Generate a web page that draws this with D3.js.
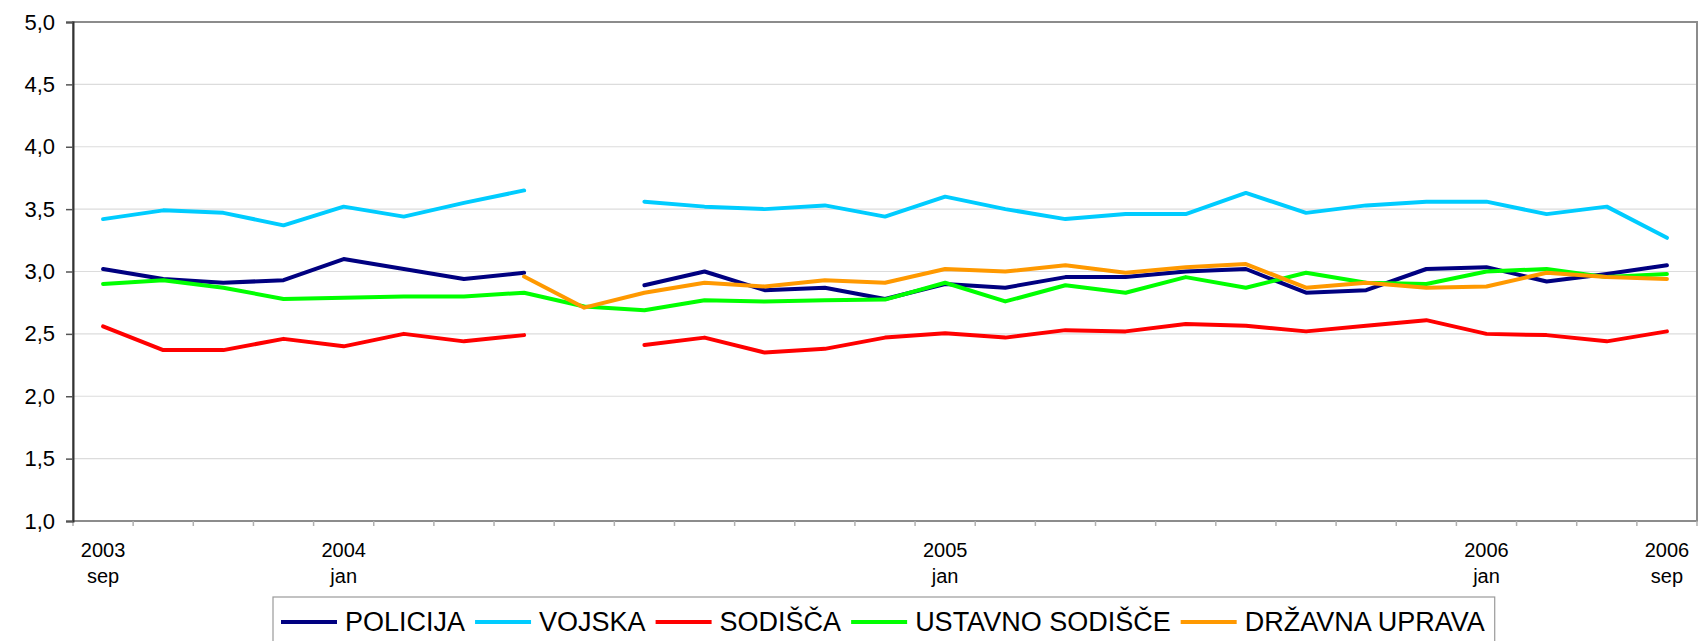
<!DOCTYPE html>
<html>
<head>
<meta charset="utf-8">
<script src="https://cdn.jsdelivr.net/npm/d3@7"></script>
<style>
  body { margin: 0; background: #fff; }
  svg { display: block; font-family: "Liberation Sans", Arial, sans-serif; }
</style>
</head>
<body>
<script>
// categories (survey waves) and the two label rows under the axis
var categories = d3.range(27);
var yearLabels  = {0: "2003", 4: "2004", 14: "2005", 23: "2006", 26: "2006"};
var monthLabels = {0: "sep", 4: "jan", 14: "jan", 23: "jan", 26: "sep"};
var yTicks = [1, 1.5, 2, 2.5, 3, 3.5, 4, 4.5, 5];

var seriesNames = ["POLICIJA", "VOJSKA", "SODIŠČA", "USTAVNO SODIŠČE", "DRŽAVNA UPRAVA"];
var seriesColors = ["#000080", "#00ccff", "#ff0000", "#00ff00", "#ff9900"];

var policija = [3.02, 2.94, 2.91, 2.93, 3.10, 3.02, 2.94, 2.99, null, 2.89, 3.00, 2.85, 2.87, 2.78,
  2.90, 2.87, 2.955, 2.955, 3.00, 3.02, 2.83, 2.85, 3.02, 3.035, 2.92, 2.98, 3.05];
var vojska = [3.42, 3.49, 3.47, 3.37, 3.52, 3.44, 3.55, 3.65, null, 3.56, 3.52, 3.50, 3.53, 3.44,
  3.60, 3.50, 3.42, 3.46, 3.46, 3.63, 3.47, 3.53, 3.56, 3.56, 3.46, 3.52, 3.27];
var sodisca = [2.56, 2.37, 2.37, 2.46, 2.40, 2.50, 2.44, 2.49, null, 2.41, 2.47, 2.35, 2.38, 2.47,
  2.505, 2.47, 2.53, 2.52, 2.58, 2.565, 2.52, 2.565, 2.61, 2.50, 2.49, 2.44, 2.52];
var ustavno = [2.90, 2.93, 2.87, 2.78, 2.79, 2.80, 2.80, 2.83, 2.72, 2.69, 2.77, 2.76, 2.77, 2.775,
  2.91, 2.76, 2.89, 2.83, 2.955, 2.87, 2.99, 2.91, 2.90, 3.00, 3.02, 2.955, 2.98];
var drzavna = [null, null, null, null, null, null, null, 2.96, 2.71, 2.83, 2.91, 2.88, 2.93, 2.91,
  3.02, 3.00, 3.05, 2.99, 3.035, 3.06, 2.87, 2.91, 2.87, 2.88, 2.99, 2.955, 2.94];

(function() {
  var width = 1698, height = 641;
  var left = 73, right = 1697, top = 22, bottom = 521;

  var series = [policija, vojska, sodisca, ustavno, drzavna].map(function(values, i) {
    return {name: seriesNames[i], color: seriesColors[i], values: values};
  });

  var svg = d3.select("body").append("svg")
      .attr("width", width)
      .attr("height", height);

  var x = d3.scaleBand().domain(categories).range([left, right]);
  var y = d3.scaleLinear().domain([1, 5]).range([bottom, top]);

  // gridlines
  svg.append("g").selectAll("line")
      .data(yTicks.slice(1, -1))
    .enter().append("line")
      .attr("x1", left).attr("x2", right)
      .attr("y1", function(d) { return y(d); })
      .attr("y2", function(d) { return y(d); })
      .attr("stroke", "#dcdcdc")
      .attr("stroke-width", 1.2);

  // plot area border
  svg.append("rect")
      .attr("x", left).attr("y", top)
      .attr("width", right - left).attr("height", bottom - top)
      .attr("fill", "none")
      .attr("stroke", "#8c8c8c")
      .attr("stroke-width", 2);

  // category ticks sit on the band boundaries
  svg.append("g").selectAll("line")
      .data(categories.concat([categories.length]))
    .enter().append("line")
      .attr("x1", function(d) { return d < categories.length ? x(d) : right; })
      .attr("x2", function(d) { return d < categories.length ? x(d) : right; })
      .attr("y1", bottom).attr("y2", bottom + 5)
      .attr("stroke", "#b0b0b0")
      .attr("stroke-width", 1.5);

  var labels = svg.append("g")
      .attr("font-size", 20)
      .attr("text-anchor", "middle")
      .attr("fill", "#000");
  Object.keys(yearLabels).forEach(function(k) {
    var cx = x(+k) + x.bandwidth() / 2;
    labels.append("text").attr("x", cx).attr("y", 557).text(yearLabels[k]);
    labels.append("text").attr("x", cx).attr("y", 583).text(monthLabels[k]);
  });

  var yAxis = d3.axisLeft(y)
      .tickValues(yTicks)
      .tickSize(7)
      .tickPadding(11)
      .tickFormat(function(d) { return d3.format(".1f")(d).replace(".", ","); });

  var gy = svg.append("g")
      .attr("transform", "translate(" + left + ",0)")
      .call(yAxis);
  gy.select(".domain").attr("stroke", "#333").attr("stroke-width", 2);
  gy.selectAll(".tick line").attr("stroke", "#555").attr("stroke-width", 1.5);
  gy.selectAll(".tick text")
      .attr("font-size", 22)
      .attr("font-family", "Liberation Sans, Arial, sans-serif")
      .attr("fill", "#000");

  var line = d3.line()
      .defined(function(d) { return d != null; })
      .x(function(d, i) { return x(categories[i]) + x.bandwidth() / 2; })
      .y(function(d) { return y(d); });

  svg.append("g").selectAll("path")
      .data(series)
    .enter().append("path")
      .attr("d", function(s) { return line(s.values); })
      .attr("fill", "none")
      .attr("stroke", function(s) { return s.color; })
      .attr("stroke-width", 4)
      .attr("stroke-linejoin", "round")
      .attr("stroke-linecap", "round");

  // legend
  var legend = svg.append("g");
  var box = legend.append("rect")
      .attr("x", 273).attr("y", 597)
      .attr("height", 60)
      .attr("fill", "#fff")
      .attr("stroke", "#9a9a9a")
      .attr("stroke-width", 1.2);

  var lx = 281;
  series.forEach(function(s) {
    legend.append("line")
        .attr("x1", lx).attr("x2", lx + 56)
        .attr("y1", 622).attr("y2", 622)
        .attr("stroke", s.color)
        .attr("stroke-width", 4);
    var t = legend.append("text")
        .attr("x", lx + 64)
        .attr("y", 631)
        .attr("font-size", 27)
        .attr("fill", "#000")
        .text(s.name);
    lx += 64 + t.node().getComputedTextLength() + 10;
  });
  box.attr("width", lx - 273);
}());
</script>
</body>
</html>
